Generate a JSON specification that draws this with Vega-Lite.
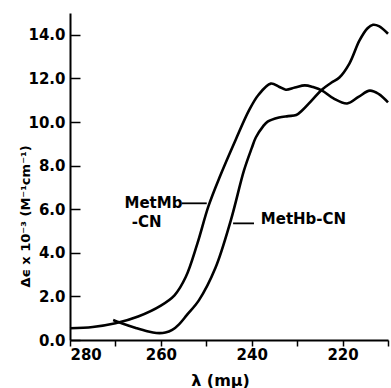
{
  "$schema": "https://vega.github.io/schema/vega-lite/v6.json",
  "width": 318,
  "height": 327,
  "autosize": {"type": "none"},
  "padding": {"left": 70, "top": 13, "right": 3, "bottom": 48},
  "background": "white",
  "config": {"view": {"stroke": null}, "font": "DejaVu Sans"},
  "datasets": {
    "curves": [
      {"series": "MetMb-CN", "wavelength": 280, "de": 0.54},
      {"series": "MetMb-CN", "wavelength": 275, "de": 0.6},
      {"series": "MetMb-CN", "wavelength": 270, "de": 0.77},
      {"series": "MetMb-CN", "wavelength": 265, "de": 1.08},
      {"series": "MetMb-CN", "wavelength": 260, "de": 1.58},
      {"series": "MetMb-CN", "wavelength": 257, "de": 2.05},
      {"series": "MetMb-CN", "wavelength": 254.5, "de": 2.9},
      {"series": "MetMb-CN", "wavelength": 252, "de": 4.4},
      {"series": "MetMb-CN", "wavelength": 249.5, "de": 6.15},
      {"series": "MetMb-CN", "wavelength": 247, "de": 7.5},
      {"series": "MetMb-CN", "wavelength": 243.5, "de": 9.2},
      {"series": "MetMb-CN", "wavelength": 240.6, "de": 10.53},
      {"series": "MetMb-CN", "wavelength": 238.5, "de": 11.25},
      {"series": "MetMb-CN", "wavelength": 235.8, "de": 11.76},
      {"series": "MetMb-CN", "wavelength": 234, "de": 11.62},
      {"series": "MetMb-CN", "wavelength": 232.5, "de": 11.48},
      {"series": "MetMb-CN", "wavelength": 230.5, "de": 11.58},
      {"series": "MetMb-CN", "wavelength": 228.3, "de": 11.68},
      {"series": "MetMb-CN", "wavelength": 226.5, "de": 11.6},
      {"series": "MetMb-CN", "wavelength": 224.5, "de": 11.44},
      {"series": "MetMb-CN", "wavelength": 222, "de": 11.08},
      {"series": "MetMb-CN", "wavelength": 219, "de": 10.85},
      {"series": "MetMb-CN", "wavelength": 216.5, "de": 11.15},
      {"series": "MetMb-CN", "wavelength": 214, "de": 11.44},
      {"series": "MetMb-CN", "wavelength": 212, "de": 11.28},
      {"series": "MetMb-CN", "wavelength": 210, "de": 10.9},
      {"series": "MetHb-CN", "wavelength": 270.5, "de": 0.92},
      {"series": "MetHb-CN", "wavelength": 268, "de": 0.72},
      {"series": "MetHb-CN", "wavelength": 265.5, "de": 0.55},
      {"series": "MetHb-CN", "wavelength": 263, "de": 0.4},
      {"series": "MetHb-CN", "wavelength": 261, "de": 0.32},
      {"series": "MetHb-CN", "wavelength": 259, "de": 0.34},
      {"series": "MetHb-CN", "wavelength": 257.5, "de": 0.46},
      {"series": "MetHb-CN", "wavelength": 256, "de": 0.72},
      {"series": "MetHb-CN", "wavelength": 254.3, "de": 1.14},
      {"series": "MetHb-CN", "wavelength": 251.6, "de": 1.83},
      {"series": "MetHb-CN", "wavelength": 248, "de": 3.3},
      {"series": "MetHb-CN", "wavelength": 244.6, "de": 5.49},
      {"series": "MetHb-CN", "wavelength": 241.7, "de": 7.78},
      {"series": "MetHb-CN", "wavelength": 240, "de": 8.8},
      {"series": "MetHb-CN", "wavelength": 239.1, "de": 9.29},
      {"series": "MetHb-CN", "wavelength": 237.5, "de": 9.8},
      {"series": "MetHb-CN", "wavelength": 236.5, "de": 10.02},
      {"series": "MetHb-CN", "wavelength": 234, "de": 10.21},
      {"series": "MetHb-CN", "wavelength": 232, "de": 10.27},
      {"series": "MetHb-CN", "wavelength": 230.2, "de": 10.32},
      {"series": "MetHb-CN", "wavelength": 228.8, "de": 10.55},
      {"series": "MetHb-CN", "wavelength": 227.4, "de": 10.85},
      {"series": "MetHb-CN", "wavelength": 224.5, "de": 11.49},
      {"series": "MetHb-CN", "wavelength": 222.5, "de": 11.8},
      {"series": "MetHb-CN", "wavelength": 220.7, "de": 12.04},
      {"series": "MetHb-CN", "wavelength": 218.5, "de": 12.68},
      {"series": "MetHb-CN", "wavelength": 216.3, "de": 13.73},
      {"series": "MetHb-CN", "wavelength": 214.5, "de": 14.3},
      {"series": "MetHb-CN", "wavelength": 213.3, "de": 14.46},
      {"series": "MetHb-CN", "wavelength": 212, "de": 14.4},
      {"series": "MetHb-CN", "wavelength": 210, "de": 14.05}
    ],
    "leaders": [
      {"series": "MetMb-CN", "from": 255.4, "to": 249.9, "de": 6.27},
      {"series": "MetHb-CN", "from": 244.1, "to": 239.5, "de": 5.35}
    ],
    "labels": [
      {"text": "MetMb", "wavelength": 268.0, "de": 6.3},
      {"text": "-CN", "wavelength": 266.4, "de": 5.4},
      {"text": "MetHb-CN", "wavelength": 238.0, "de": 5.54}
    ]
  },
  "layer": [
    {
      "data": {"name": "curves"},
      "mark": {"type": "line", "interpolate": "catmull-rom", "color": "black", "strokeWidth": 2.6},
      "encoding": {
        "x": {
          "field": "wavelength", "type": "quantitative",
          "scale": {"domain": [210, 280], "reverse": true, "nice": false, "zero": false},
          "axis": {
            "title": "λ (mμ)",
            "values": [210, 215, 220, 225, 230, 235, 240, 245, 250, 255, 260, 265, 270, 275, 280],
            "labelExpr": "datum.value % 20 === 0 ? datum.label : ''",
            "grid": false,
            "domainColor": "black", "domainWidth": 2,
            "tickColor": "black", "tickWidth": 1.5,
            "tickSize": {"condition": {"test": "datum.value % 10 === 0", "value": 6}, "value": 4},
            "labelFont": "DejaVu Sans", "labelFontWeight": "bold", "labelFontSize": 15, "labelColor": "black",
            "labelPadding": 1,
            "titleFont": "DejaVu Sans", "titleFontWeight": "bold", "titleFontSize": 16, "titleColor": "black",
            "titleX": 150, "titleY": 40, "titleBaseline": "middle"
          }
        },
        "y": {
          "field": "de", "type": "quantitative",
          "scale": {"domain": [0, 15], "nice": false},
          "axis": {
            "title": "Δϵ x 10⁻³ (M⁻¹cm⁻¹)",
            "values": [0, 1, 2, 3, 4, 5, 6, 7, 8, 9, 10, 11, 12, 13, 14, 15],
            "format": ".1f",
            "labelExpr": "datum.value % 2 === 0 && datum.value < 15 ? datum.label : ''",
            "grid": false,
            "domainColor": "black", "domainWidth": 2,
            "tickColor": "black", "tickWidth": 1.5,
            "tickSize": {"condition": {"test": "datum.value % 2 === 0", "value": -10}, "value": -5},
            "labelFont": "DejaVu Sans", "labelFontWeight": "bold", "labelFontSize": 15, "labelColor": "black",
            "labelPadding": 15,
            "titleFont": "DejaVu Sans", "titleFontWeight": "bold", "titleFontSize": 13, "titleColor": "black",
            "titleX": -45, "titleY": 203, "titleBaseline": "middle"
          }
        },
        "detail": {"field": "series"}
      }
    },
    {
      "data": {"name": "leaders"},
      "mark": {"type": "rule", "color": "black", "strokeWidth": 1.8},
      "encoding": {
        "x": {"field": "from", "type": "quantitative"},
        "x2": {"field": "to"},
        "y": {"field": "de", "type": "quantitative"}
      }
    },
    {
      "data": {"name": "labels"},
      "mark": {"type": "text", "align": "left", "baseline": "middle", "font": "DejaVu Sans", "fontWeight": "bold", "fontSize": 15, "color": "black"},
      "encoding": {
        "x": {"field": "wavelength", "type": "quantitative"},
        "y": {"field": "de", "type": "quantitative"},
        "text": {"field": "text"}
      }
    }
  ]
}
